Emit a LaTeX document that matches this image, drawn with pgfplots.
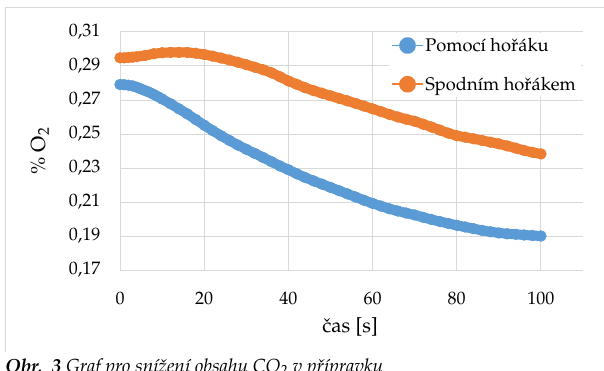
\documentclass[border=0pt]{standalone}
\usepackage[T1]{fontenc}
\usepackage{mathpazo}
\usepackage{pgfplots}
\pgfplotsset{compat=1.18}
\definecolor{xlblue}{HTML}{5B9BD5}
\definecolor{xlorange}{HTML}{ED7D31}
\definecolor{xlgrid}{HTML}{D9D9D9}
\pgfplotstableread{
x y
0 0.2791
1 0.2790
2 0.2787
3 0.2783
4 0.2775
5 0.2765
6 0.2755
7 0.2745
8 0.2733
9 0.2720
10 0.2706
12 0.2678
14 0.2648
16 0.2618
18 0.2585
20 0.2552
22 0.2520
24 0.2490
26 0.2462
28 0.2435
30 0.2410
32 0.2386
34 0.2362
36 0.2337
38 0.2312
40 0.2290
42 0.2266
44 0.2244
46 0.2224
48 0.2205
50 0.2186
52 0.2167
54 0.2148
56 0.2129
58 0.2110
60 0.2092
62 0.2076
64 0.2060
66 0.2047
68 0.2035
70 0.2024
72 0.2010
74 0.1997
76 0.1985
78 0.1974
80 0.1963
82 0.1953
84 0.1943
86 0.1933
88 0.1925
90 0.1918
92 0.1913
94 0.1910
96 0.1906
98 0.1903
100 0.1900
}\pomoci
\pgfplotstableread{
x y
0 0.2948
1 0.2948
2 0.2950
3 0.2952
4 0.2955
6 0.2962
8 0.2972
10 0.2978
12 0.2980
14 0.2980
16 0.2980
18 0.2975
20 0.2968
22 0.2958
24 0.2947
26 0.2935
28 0.2922
30 0.2908
32 0.2893
34 0.2878
36 0.2860
38 0.2837
40 0.2812
42 0.2792
44 0.2772
46 0.2755
48 0.2740
50 0.2725
52 0.2710
54 0.2695
56 0.2680
58 0.2664
60 0.2648
62 0.2632
64 0.2615
66 0.2600
68 0.2587
70 0.2575
72 0.2558
74 0.2541
76 0.2523
78 0.2505
80 0.2490
82 0.2481
84 0.2472
86 0.2462
88 0.2452
90 0.2442
92 0.2430
94 0.2417
96 0.2403
98 0.2392
100 0.2383
}\spodnim
\begin{document}
\begin{tikzpicture}[x=1pt,y=1pt]
\useasboundingbox (0,0) rectangle (604,370);
\draw[xlgrid, line width=1pt] (5,18) -- (5,362) -- (610,362);
\begin{axis}[
  at={(120pt,100pt)}, anchor=south west,
  scale only axis, width=463pt, height=238pt,
  xmin=0, xmax=110, ymin=0.17, ymax=0.31,
  xtick={0,20,40,60,80,100},
  ytick={0.17,0.19,0.21,0.23,0.25,0.27,0.29,0.31},
  grid=major, grid style={xlgrid, line width=1pt},
  axis x line*=bottom, axis y line*=left,
  axis line style={xlgrid, line width=1pt},
  major tick length=0pt,
  tick label style={font=\fontsize{18}{21}\selectfont, /pgf/number format/assume math mode=true},
  yticklabel style={/pgf/number format/.cd, fixed, fixed zerofill, precision=2, use comma, /tikz/.cd, xshift=-16pt},
  xticklabel style={yshift=-18pt},
  scaled y ticks=false,
  xlabel={\v{c}as [s]},
  ylabel={\% O\textsubscript{2}},
  label style={font=\fontsize{20.5}{23}\selectfont},
  xlabel style={at={(axis description cs:0.497,-0.24)}, anchor=center},
  ylabel style={at={(axis description cs:-0.173,0.5)}, anchor=center},
  legend style={at={(rel axis cs:0.58,0.996)}, anchor=north west, draw=none, fill=white,
    font=\fontsize{18.3}{21}\selectfont, row sep=20pt, inner sep=3pt},
  legend cell align=left,
  legend image code/.code={
    \draw[#1, line width=1.6pt, mark=none] (0pt,0pt) -- (30pt,0pt);
    \fill[#1] (15pt,0pt) circle (3.5pt);
  },
]
\addplot[color=xlblue, line width=10pt, line join=round, line cap=round, mark=*, mark size=5.4pt, mark options={line width=0.5pt}] table[x=x,y=y] {\pomoci};
\addlegendentry{Pomoc\'{\i} ho\v{r}\'aku}
\addplot[color=xlorange, line width=10pt, line join=round, line cap=round, mark=*, mark size=5.4pt, mark options={line width=0.5pt}] table[x=x,y=y] {\spodnim};
\addlegendentry{Spodn\'{\i}m ho\v{r}\'akem}
\end{axis}
\node[anchor=base west, inner sep=0pt] at (5,-2) {\fontsize{19}{21}\selectfont\textbf{\textit{Obr.\ \ 3}}\ \textit{Graf pro sn\'{\i}\v{z}en\'{\i} obsahu CO\textsubscript{2} v p\v{r}\'{\i}pravku}};
\end{tikzpicture}
\end{document}
